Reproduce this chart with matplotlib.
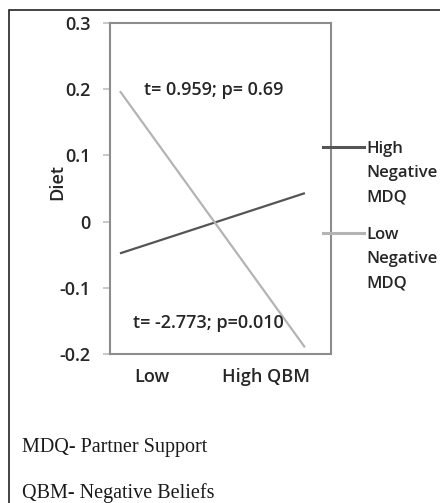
import matplotlib
matplotlib.use("Agg")
import matplotlib.pyplot as plt
from matplotlib.lines import Line2D
from matplotlib.patches import Rectangle

# ---- data ----
qbm_levels = ["Low", "High QBM"]
high_neg_mdq = [-0.048, 0.043]
low_neg_mdq = [0.197, -0.190]
series_labels = ["High\nNegative\nMDQ", "Low\nNegative\nMDQ"]
y_ticks = [-0.2, -0.1, 0, 0.1, 0.2, 0.3]
y_ticklabels = ["-0.2", "-0.1", "0", "0.1", "0.2", "0.3"]
annot_top = "t= 0.959; p= 0.69"
annot_bottom = "t= -2.773; p=0.010"
footnotes = ["MDQ- Partner Support", "QBM- Negative Beliefs"]

W, H = 440, 503
fig = plt.figure(figsize=(W / 100, H / 100), dpi=100)

def fx(px):
    return px / W

def fy(py):
    return 1 - py / H

SANS = ["Open Sans", "DejaVu Sans"]
SERIF = ["Liberation Serif", "DejaVu Serif"]
TXT = "#262626"
DARK = "#555555"
LIGHT = "#b4b4b4"
SPINE = "#8c8c8c"
FS = 13
WT = "semibold"

# outer frame
fig.add_artist(Rectangle((fx(9), fy(600)), fx(600), fy(10) - fy(600),
                         transform=fig.transFigure, fill=False,
                         edgecolor="#222222", linewidth=1.2))

ax = fig.add_axes([fx(110), fy(354), fx(331) - fx(110), fy(23) - fy(354)])
x = [0, 1]
ax.plot(x, high_neg_mdq, color=DARK, linewidth=1.6, solid_capstyle="butt")
ax.plot(x, low_neg_mdq, color=LIGHT, linewidth=1.6, solid_capstyle="butt")
ax.set_xlim(-0.054, 1.141)
ax.set_ylim(-0.2, 0.3)

ax.set_yticks(y_ticks)
ax.set_yticklabels(y_ticklabels, fontsize=FS, family=SANS, weight=WT, color=TXT)
ax.set_xticks([0.173, 0.789])
ax.set_xticklabels(qbm_levels, fontsize=FS, family=SANS, weight=WT, color=TXT)
ax.tick_params(axis="y", length=5, width=1.2, color="#c0c0c0", pad=9)
ax.tick_params(axis="x", length=0, pad=10)
for s in ax.spines.values():
    s.set_color(SPINE)
    s.set_linewidth(1.5)

ax.set_ylabel("Diet", fontsize=FS, family=SANS, weight=WT, color=TXT)
ax.yaxis.set_label_coords(-0.2, 0.52)

ax.text(0.155, 0.798, annot_top, transform=ax.transAxes, fontsize=FS,
        family=SANS, weight=WT, color=TXT, va="center", ha="left")
ax.text(0.104, 0.093, annot_bottom, transform=ax.transAxes, fontsize=FS,
        family=SANS, weight=WT, color=TXT, va="center", ha="left")

# legend (manual, handle aligned with first line)
for col, lab, yy in [(DARK, series_labels[0], 147), (LIGHT, series_labels[1], 233)]:
    fig.add_artist(Line2D([fx(323), fx(364)], [fy(yy), fy(yy)], color=col,
                          linewidth=2.2, transform=fig.transFigure))
    fig.text(fx(366), fy(yy - 6), lab, fontsize=12, family=SANS, weight=WT,
             color=TXT, va="top", ha="left", linespacing=1.7)

fig.text(fx(22), fy(452), footnotes[0], fontsize=14.5, family=SERIF, color="#1a1a1a",
         va="baseline", ha="left")
fig.text(fx(22), fy(498), footnotes[1], fontsize=14.5, family=SERIF, color="#1a1a1a",
         va="baseline", ha="left")

fig.savefig("out.png", dpi=100)
